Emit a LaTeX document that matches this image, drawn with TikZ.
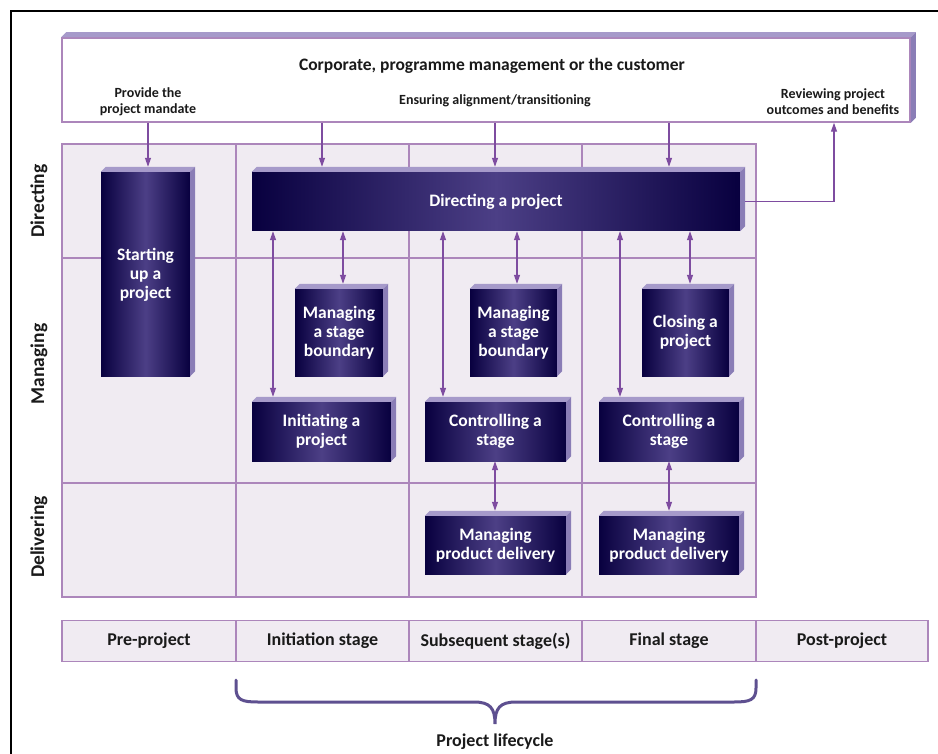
\documentclass[tikz,border=0pt]{standalone}
\usepackage{fontspec}
\setmainfont{Carlito}
\usetikzlibrary{arrows.meta,calc}
\definecolor{navy}{HTML}{08003F}
\definecolor{midp}{HTML}{4C3F86}
\definecolor{gridc}{HTML}{AC86BB}
\definecolor{cellc}{HTML}{F0EBF2}
\definecolor{arrc}{HTML}{7E4CA0}
\definecolor{bevtop}{HTML}{A69ACA}
\definecolor{bevside}{HTML}{8A7DB6}
\definecolor{bracec}{HTML}{5E5090}
\definecolor{txtc}{HTML}{1A1A1A}
\newcommand\mybevel[1]{%
  \fill[bevtop] (#1.north west) -- ++(5,-5) -- ($(#1.north east)+(5,-5)$) -- (#1.north east) -- cycle;
  \fill[bevside] (#1.north east) -- ++(5,-5) -- ($(#1.south east)+(5,-5)$) -- (#1.south east) -- cycle;}
\tikzset{
  proctxt/.style={text=white, font=\bfseries\fontsize{17.5}{19}\selectfont, align=center, inner sep=0pt},
  proc/.style={proctxt, shading=axis, left color=navy, right color=navy, middle color=midp},
  lab/.style={text=txtc, font=\bfseries\fontsize{14}{16}\selectfont, align=center, inner sep=0pt},
  big/.style={text=txtc, font=\bfseries\fontsize{18}{20}\selectfont, align=center, inner sep=0pt},
  rowlab/.style={big, font=\bfseries\fontsize{19.5}{20}\selectfont, rotate=90},
  stagebox/.style={draw=gridc, line width=1.5pt, fill=cellc, minimum width=173pt, minimum height=41pt,
    text=txtc, font=\bfseries\fontsize{18}{20}\selectfont, inner sep=0pt},
  flow/.style={draw=arrc, line width=1.2pt, -{Triangle[length=9pt,width=6pt]}},
  dflow/.style={draw=arrc, line width=1.2pt, {Triangle[length=9pt,width=6pt]}-{Triangle[length=9pt,width=6pt]}},
}
\begin{document}
\begin{tikzpicture}[x=1pt,y=-1pt]
\useasboundingbox (0,0) rectangle (938,754);
\fill[white] (0,0) rectangle (938,754);
% frame
\draw[line width=2pt] (11,754) -- (11,11) -- (938,11);

% top box
\node[draw=gridc, line width=1.5pt, fill=white, minimum width=848pt, minimum height=84pt, inner sep=0pt] (corp) at (486,80) {};
\mybevel{corp}
\node[big, font=\bfseries\fontsize{17.5}{20}\selectfont] (corptitle) at (492,66) {Corporate, programme management or the customer};
\node[lab] (mandate) at (148,102) {Provide the\\project mandate};
\node[lab] (align) at (495,101) {Ensuring alignment/transitioning};
\node[lab] (review) at (833,102) {Reviewing project\\outcomes and benefits};

% grid
\fill[cellc] (62,144) rectangle (756,597);
\draw[gridc, line width=1.5pt] (62,144) rectangle (756,597);
\draw[gridc, line width=1.5pt] (236,144) -- (236,597) (409,144) -- (409,597) (582,144) -- (582,597)
  (62,258) -- (756,258) (62,483) -- (756,483);

% row labels
\node[rowlab] (rdir) at (39,201) {Directing};
\node[rowlab] (rman) at (39,364) {Managing};
\node[rowlab] (rdel) at (39,537) {Delivering};

% process boxes
\node[proc, minimum width=89pt, minimum height=204pt] (start) at (145.5,274) {};
\node[proctxt] (starttxt) at (145.5,275) {Starting\\up a\\project};
\node[proc, minimum width=488pt, minimum height=59pt] (direct) at (496,201.5) {Directing a project};
\node[proc, minimum width=88pt, minimum height=87pt] (msb1) at (339,332.5) {Managing\\a stage\\boundary};
\node[proc, minimum width=139pt, minimum height=59pt] (init) at (321.5,431.5) {Initiating a\\project};
\node[proc, minimum width=87pt, minimum height=87pt] (msb2) at (513.5,332.5) {Managing\\a stage\\boundary};
\node[proc, minimum width=141pt, minimum height=59pt] (ctrl1) at (495.5,431.5) {Controlling a\\stage};
\node[proc, minimum width=87pt, minimum height=87pt] (close) at (685.5,332.5) {Closing a\\project};
\node[proc, minimum width=140pt, minimum height=59pt] (ctrl2) at (669,431.5) {Controlling a\\stage};
\node[proc, minimum width=141pt, minimum height=58pt] (mpd1) at (495.5,545) {Managing\\product delivery};
\node[proc, minimum width=140pt, minimum height=58pt] (mpd2) at (669,545) {Managing\\product delivery};
\foreach \b in {start,direct,msb1,init,msb2,ctrl1,close,ctrl2,mpd1,mpd2} {\mybevel{\b}}

% arrow x positions
\coordinate (xa) at (148,0);
\coordinate (xb) at (322,0);
\coordinate (xc) at (495,0);
\coordinate (xd) at (669,0);
\coordinate (xe) at (834,0);
\coordinate (d1) at (273,0);
\coordinate (d2) at (343,0);
\coordinate (d3) at (443,0);
\coordinate (d4) at (517,0);
\coordinate (d5) at (620,0);
\coordinate (d6) at (690,0);

% arrows from corporate
\draw[flow, shorten >=5pt] (corp.south -| xa) -- (start.north -| xa);
\draw[flow, shorten >=5pt] (corp.south -| xb) -- (direct.north -| xb);
\draw[flow, shorten >=5pt] (corp.south -| xc) -- (direct.north -| xc);
\draw[flow, shorten >=5pt] (corp.south -| xd) -- (direct.north -| xd);
\draw[flow] ($(direct.east)+(5,0)$) -- (direct.east -| xe) -- (corp.south -| xe);

% double arrows
\draw[dflow, shorten >=5pt] (direct.south -| d1) -- (init.north -| d1);
\draw[dflow, shorten >=5pt] (direct.south -| d2) -- (msb1.north -| d2);
\draw[dflow, shorten >=5pt] (direct.south -| d3) -- (ctrl1.north -| d3);
\draw[dflow, shorten >=5pt] (direct.south -| d4) -- (msb2.north -| d4);
\draw[dflow, shorten >=5pt] (direct.south -| d5) -- (ctrl2.north -| d5);
\draw[dflow, shorten >=5pt] (direct.south -| d6) -- (close.north -| d6);
\draw[dflow, shorten >=5pt] (ctrl1.south -| xc) -- (mpd1.north -| xc);
\draw[dflow, shorten >=5pt] (ctrl2.south -| xd) -- (mpd2.north -| xd);

% bottom stages
\node[stagebox, minimum width=174pt] (pre) at (149,641) {Pre-project};
\node[stagebox] (inis) at (322.5,641) {Initiation stage};
\node[stagebox] (subs) at (495.5,641) {Subsequent stage(s)};
\node[stagebox, minimum width=174pt] (fins) at (669,641) {Final stage};
\node[stagebox, minimum width=172pt] (post) at (842,641) {Post-project};

% brace
\draw[bracec, line width=3pt, line cap=round] (236,680) -- (236,688)
  .. controls (236,700) and (242,702) .. (258,702) -- (474,702)
  .. controls (490,702) and (495,708) .. (495,724)
  .. controls (495,708) and (500,702) .. (516,702) -- (734,702)
  .. controls (750,702) and (756,700) .. (756,688) -- (756,680);
\node[big] (life) at (495,742) {Project lifecycle};
\end{tikzpicture}
\end{document}
